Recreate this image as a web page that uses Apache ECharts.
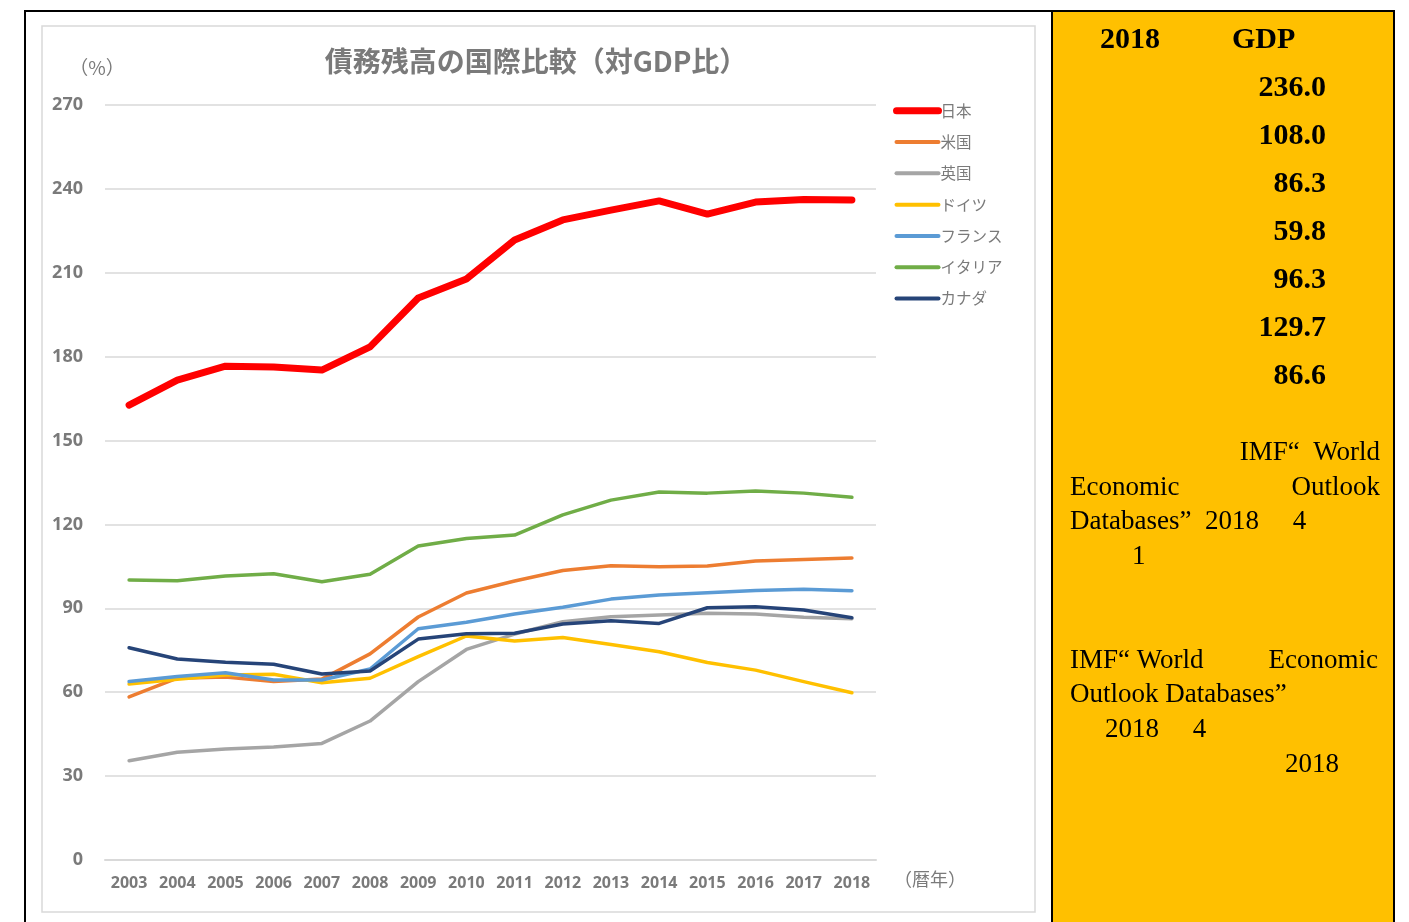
<!DOCTYPE html>
<html>
<head>
<meta charset="utf-8">
<script src="https://cdn.jsdelivr.net/npm/echarts@6/dist/echarts.min.js"></script>
<style>
    * { margin: 0; padding: 0; }
    body { background: #fff; }
    #debt { width: 1409px; height: 922px; }
</style>
</head>
<body>
<div id="debt"></div>
<script>
    // 年
    var years = ['2003','2004','2005','2006','2007','2008','2009','2010','2011','2012','2013','2014','2015','2016','2017','2018'];
    var countries = ['日本', '米国', '英国', 'ドイツ', 'フランス', 'イタリア', 'カナダ'];
    // 債務残高（対GDP比, %）
    var japan   = [162.7, 171.6, 176.6, 176.3, 175.2, 183.5, 201.0, 207.8, 221.7, 228.9, 232.4, 235.7, 231.0, 235.3, 236.2, 236.0];
    var usa     = [58.3, 65.0, 65.4, 63.8, 64.7, 73.7, 86.9, 95.5, 99.8, 103.5, 105.2, 104.9, 105.1, 106.9, 107.5, 108.0];
    var uk      = [35.5, 38.5, 39.7, 40.4, 41.7, 49.7, 63.8, 75.3, 80.8, 85.2, 87.0, 87.6, 88.2, 88.0, 86.8, 86.3];
    var germany = [62.9, 64.6, 66.2, 66.4, 63.4, 65.0, 72.7, 80.1, 78.3, 79.6, 77.1, 74.5, 70.6, 67.9, 63.8, 59.8];
    var france  = [63.8, 65.6, 67.0, 64.4, 64.4, 68.3, 82.7, 85.0, 88.0, 90.4, 93.3, 94.8, 95.6, 96.4, 96.8, 96.3];
    var italy   = [100.1, 99.9, 101.6, 102.4, 99.5, 102.2, 112.3, 115.0, 116.2, 123.4, 128.7, 131.6, 131.2, 132.0, 131.2, 129.7];
    var canada  = [75.9, 71.9, 70.7, 70.0, 66.5, 67.6, 79.0, 80.9, 81.1, 84.4, 85.6, 84.6, 90.2, 90.6, 89.4, 86.6];
    // 2018年 右パネル
    var panelValues = ['236.0', '108.0', '86.3', '59.8', '96.3', '129.7', '86.6'];

    var seriesData = [japan, usa, uk, germany, france, italy, canada];
    var colors = ['#FF0000', '#ED7D31', '#A5A5A5', '#FFC000', '#5B9BD5', '#70AD47', '#264478'];
    var grayText = '#7A7A7A';
    var serif = 'Liberation Serif';

    var panelText = [];
    panelValues.forEach(function (v, i) {
        panelText.push({
            type: 'text', x: 1326, y: 88 + i * 48,
            style: { text: v, font: 'bold 30px ' + serif, fill: '#000', align: 'right', verticalAlign: 'middle' }
        });
    });
    // 出典（文字化けしたまま）
    var noteLines = [
        { t: 'IMF“  World', x: 1380, y: 453, a: 'right' },
        { t: 'Economic', x: 1070, y: 488, a: 'left' },
        { t: 'Outlook', x: 1380, y: 488, a: 'right' },
        { t: 'Databases”  2018     4', x: 1070, y: 522, a: 'left' },
        { t: '1', x: 1132, y: 557, a: 'left' },
        { t: 'IMF“ World', x: 1070, y: 661, a: 'left' },
        { t: 'Economic', x: 1378, y: 661, a: 'right' },
        { t: 'Outlook Databases”', x: 1070, y: 695, a: 'left' },
        { t: '2018     4', x: 1105, y: 730, a: 'left' },
        { t: '2018', x: 1285, y: 765, a: 'left' }
    ];
    noteLines.forEach(function (n) {
        panelText.push({
            type: 'text', x: n.x, y: n.y,
            style: { text: n.t, font: '27px ' + serif, fill: '#000', align: n.a, verticalAlign: 'middle' }
        });
    });

    var option = {
        animation: false,
        backgroundColor: '#fff',
        title: {
            text: '債務残高の国際比較（対GDP比）',
            left: 531, top: 42, textAlign: 'center',
            textStyle: { color: grayText, fontSize: 28, fontWeight: 'bold', fontFamily: 'Noto Sans CJK JP' }
        },
        legend: {
            orient: 'vertical',
            left: 888, top: 98,
            itemWidth: 42, itemHeight: 14, itemGap: 15.8,
            textStyle: { color: grayText, fontSize: 15.5, fontFamily: 'Noto Sans CJK JP', padding: [0, 0, 0, -3] },
            data: countries.map(function (c, i) {
                return {
                    name: c,
                    itemStyle: { opacity: 0 },
                    lineStyle: { color: colors[i], width: i === 0 ? 7 : 4, cap: 'round' }
                };
            })
        },
        grid: { left: 105, right: 533, top: 105, bottom: 62 },
        xAxis: {
            type: 'category',
            data: years,
            axisLine: { lineStyle: { color: '#D9D9D9', width: 2 } },
            axisTick: { show: false },
            axisLabel: { interval: 0, color: grayText, fontSize: 16, fontWeight: 'bold', fontFamily: 'Open Sans', margin: 15 }
        },
        yAxis: {
            type: 'value',
            min: 0, max: 270, interval: 30,
            axisLine: { show: false },
            axisTick: { show: false },
            splitLine: { lineStyle: { color: '#D9D9D9', width: 1.5 } },
            axisLabel: { color: grayText, fontSize: 18, fontWeight: 'bold', fontFamily: 'Open Sans', margin: 22 }
        },
        series: countries.map(function (c, i) {
            return {
                name: c,
                type: 'line',
                data: seriesData[i],
                symbol: 'none',
                z: i === 0 ? 10 : 2,
                lineStyle: { color: colors[i], width: i === 0 ? 7 : 3.5, cap: 'round', join: 'round' },
                itemStyle: { color: colors[i] }
            };
        }),
        graphic: [
            // 外枠
            { type: 'rect', shape: { x: 25, y: 11, width: 1027, height: 930 }, style: { fill: 'none', stroke: '#000', lineWidth: 2 }, z: 0 },
            // グラフ枠
            { type: 'rect', shape: { x: 42, y: 26, width: 993, height: 886 }, style: { fill: 'none', stroke: '#D9D9D9', lineWidth: 1.5 }, z: 0 },
            // 右パネル
            { type: 'rect', shape: { x: 1052, y: 11, width: 342, height: 930 }, style: { fill: '#FFC000', stroke: '#000', lineWidth: 2 }, z: 0 },
            { type: 'text', x: 97, y: 68, style: { text: '（%）', font: '19px Noto Sans CJK JP', fill: grayText, align: 'center', verticalAlign: 'middle' } },
            { type: 'text', x: 930, y: 879, style: { text: '（暦年）', font: '18px Noto Sans CJK JP', fill: grayText, align: 'center', verticalAlign: 'middle' } },
            { type: 'text', x: 1100, y: 40, style: { text: '2018', font: 'bold 30px ' + serif, fill: '#000', align: 'left', verticalAlign: 'middle' } },
            { type: 'text', x: 1232, y: 40, style: { text: 'GDP', font: 'bold 30px ' + serif, fill: '#000', align: 'left', verticalAlign: 'middle' } }
        ].concat(panelText)
    };

    var myChart = echarts.init(document.getElementById('debt'));
    myChart.setOption(option);
</script>
</body>
</html>
